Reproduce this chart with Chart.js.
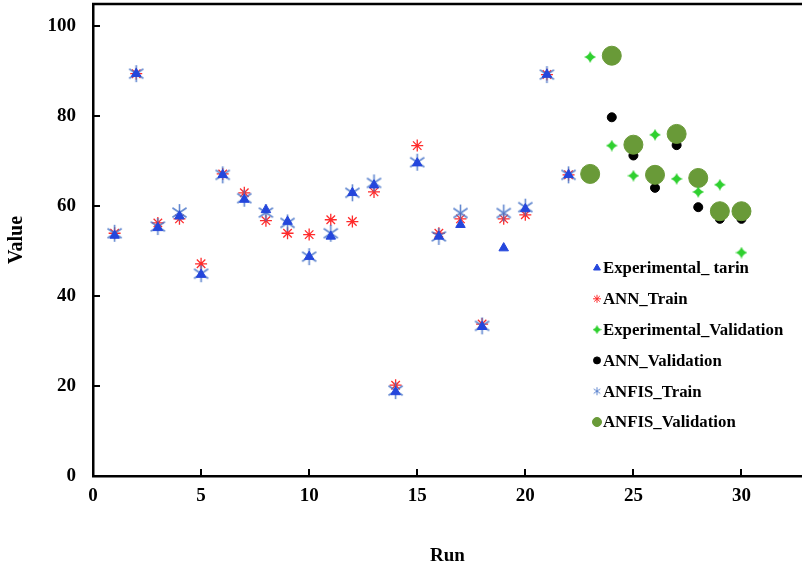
<!DOCTYPE html>
<html>
<head>
<meta charset="utf-8">
<script src="https://cdn.jsdelivr.net/npm/chart.js@4.4.1/dist/chart.umd.min.js"></script>
<style>
  html, body { margin: 0; padding: 0; background: #fff; }
  #wrap { width: 802px; height: 569px; }
</style>
</head>
<body>
<div id="wrap"><canvas id="chart" width="802" height="569"></canvas></div>
<script>
// data
const runsTrain = [1, 2, 3, 4, 5, 6, 7, 8, 9, 10, 11, 12, 13, 14, 15, 16, 17, 18, 19, 20, 21, 22];
const expTrain = [53.5, 89.5, 55.2, 57.8, 44.8, 67, 61.5, 59.2, 56.6, 48.8, 53.3, 63, 64.7, 18.7, 69.6, 53.3, 55.9, 33.2, 50.7, 59.4, 89.3, 67];
const annTrain = [54, 89.5, 56.3, 57.2, 47.2, 67.2, 63, 56.8, 54, 53.7, 57, 56.6, 63.2, 20.2, 73.5, 54, 57.2, 33.8, 57.2, 58.1, 89.3, 67];
const anfisTrain = [54, 89.5, 55.5, 58.6, 45, 67, 61.8, 58.6, 56.3, 48.8, 54, 63, 65.2, 19, 69.8, 53.3, 58.5, 33.4, 58.5, 59.8, 89.3, 67];

const runsVal = [23, 24, 25, 26, 27, 28, 29, 30];
const expVal = [93.2, 73.5, 66.8, 75.9, 66.1, 63.2, 64.8, 49.7];
const annVal = [67, 79.8, 71.3, 64.1, 73.6, 59.8, 57.2, 57.2];
const anfisVal = [67.2, 93.5, 73.7, 67, 76.1, 66.3, 58.9, 58.9];

const xTicks = [0, 5, 10, 15, 20, 25, 30];
const yTicks = [0, 20, 40, 60, 80, 100];

const seriesNames = ["Experimental_ tarin", "ANN_Train", "Experimental_Validation", "ANN_Validation", "ANFIS_Train", "ANFIS_Validation"];

const FONT = "'Liberation Serif', 'Times New Roman', serif";

function pts(xs, ys) {
    return xs.map((x, i) => ({ x: x, y: ys[i] }));
}

// six armed star used for ANFIS_Train
function anfisStar(size, color, lw) {
    const c = document.createElement("canvas");
    c.width = size; c.height = size;
    const g = c.getContext("2d");
    const m = size / 2, r = size / 2 - 1;
    g.strokeStyle = color;
    g.lineWidth = lw;
    g.beginPath();
    g.moveTo(m, m - r); g.lineTo(m, m + r);
    const dx = r * Math.sin(Math.PI / 3.2), dy = r * Math.cos(Math.PI / 3.2);
    g.moveTo(m - dx, m - dy); g.lineTo(m + dx, m + dy);
    g.moveTo(m + dx, m - dy); g.lineTo(m - dx, m + dy);
    g.stroke();
    return c;
}

// four pointed star used for Experimental_Validation
function fourStar(size, color) {
    const c = document.createElement("canvas");
    c.width = size; c.height = size;
    const g = c.getContext("2d");
    const m = size / 2, k = size * 0.12;
    g.fillStyle = color;
    g.beginPath();
    g.moveTo(m, 0);
    g.quadraticCurveTo(m + k, m - k, size, m);
    g.quadraticCurveTo(m + k, m + k, m, size);
    g.quadraticCurveTo(m - k, m + k, 0, m);
    g.quadraticCurveTo(m - k, m - k, m, 0);
    g.fill();
    return c;
}

const blue = "#2446dc";
const red = "#ff2b2b";
const green = "#2fd02f";
const steel = "rgba(70,115,200,0.85)";
const olive = "#699a38";

const insideTicks = {
    id: "insideTicks",
    afterDraw(chart) {
        const ctx = chart.ctx;
        const a = chart.chartArea;
        const xs = chart.scales.x, ys = chart.scales.y;
        ctx.save();
        ctx.strokeStyle = "#000";
        ctx.lineWidth = 2;
        ctx.beginPath();
        xTicks.forEach(v => {
            if (v === 0) return;
            const px = Math.round(xs.getPixelForValue(v));
            ctx.moveTo(px, a.bottom);
            ctx.lineTo(px, a.bottom - 7);
        });
        yTicks.forEach(v => {
            if (v === 0) return;
            const py = Math.round(ys.getPixelForValue(v));
            ctx.moveTo(a.left, py);
            ctx.lineTo(a.left + 7, py);
        });
        ctx.stroke();
        // top frame line
        ctx.lineWidth = 2.5;
        ctx.beginPath();
        ctx.moveTo(a.left - 1, a.top);
        ctx.lineTo(a.right, a.top);
        ctx.stroke();
        ctx.restore();
    }
};

const legendStyles = [
    { pointStyle: "triangle", radius: 4, fill: blue, stroke: blue },
    { pointStyle: "star", radius: 4, fill: red, stroke: red },
    { pointStyle: fourStar(9, green), radius: 4, fill: green, stroke: green },
    { pointStyle: "circle", radius: 3.5, fill: "#000", stroke: "#000" },
    { pointStyle: anfisStar(10, steel, 1), radius: 4, fill: steel, stroke: steel },
    { pointStyle: "circle", radius: 4.5, fill: olive, stroke: olive }
];

const insideLegend = {
    id: "insideLegend",
    afterDraw(chart) {
        const ctx = chart.ctx;
        ctx.save();
        ctx.font = "bold 16.8px " + FONT;
        ctx.textBaseline = "middle";
        seriesNames.forEach((name, i) => {
            const y = 268 + i * 30.8;
            const s = legendStyles[i];
            ctx.fillStyle = s.fill;
            ctx.strokeStyle = s.stroke;
            ctx.lineWidth = 1;
            Chart.helpers.drawPoint(ctx, { pointStyle: s.pointStyle, radius: s.radius, rotation: 0, borderWidth: 1 }, 597, y);
            ctx.fillStyle = "#000";
            ctx.fillText(name, 603, y + 1);
        });
        ctx.restore();
    }
};

function noEdgePadding(s) {
    s.paddingTop = 0;
    s.paddingBottom = 0;
    s.paddingLeft = 0;
    s.paddingRight = 0;
}

new Chart(document.getElementById("chart"), {
    type: "scatter",
    data: {
        datasets: [
            { label: seriesNames[0], data: pts(runsTrain, expTrain), pointStyle: "triangle", pointRadius: 5.5,
              backgroundColor: blue, borderColor: blue, borderWidth: 1, order: 0 },
            { label: seriesNames[1], data: pts(runsTrain, annTrain), pointStyle: "star", pointRadius: 6,
              backgroundColor: red, borderColor: red, borderWidth: 1.3, order: 2 },
            { label: seriesNames[2], data: pts(runsVal, expVal), pointStyle: fourStar(12, green), pointRadius: 6,
              backgroundColor: green, borderColor: green, order: 3 },
            { label: seriesNames[3], data: pts(runsVal, annVal), pointStyle: "circle", pointRadius: 4.5,
              backgroundColor: "#000", borderColor: "#000", order: 5 },
            { label: seriesNames[4], data: pts(runsTrain, anfisTrain), pointStyle: anfisStar(19, steel, 1.6), pointRadius: 9,
              backgroundColor: steel, borderColor: steel, order: 1 },
            { label: seriesNames[5], data: pts(runsVal, anfisVal), pointStyle: "circle", pointRadius: 9.5,
              backgroundColor: olive, borderColor: olive, order: 4 }
        ]
    },
    options: {
        responsive: false,
        animation: false,
        devicePixelRatio: 1,
        layout: { autoPadding: false, padding: { top: 4, right: 0, left: 0, bottom: 0 } },
        plugins: {
            legend: { display: false },
            tooltip: { enabled: false }
        },
        scales: {
            x: {
                type: "linear",
                min: 0,
                max: 32.8,
                afterBuildTicks: s => { s.ticks = xTicks.map(v => ({ value: v })); },
                afterFit: s => { s.height = 93; noEdgePadding(s); },
                grid: { display: false, drawTicks: false },
                border: { display: true, color: "#000", width: 2.5 },
                ticks: { color: "#000", padding: 9, font: { family: FONT, size: 19, weight: "bold" } },
                title: { display: true, text: "Run", color: "#000", padding: { top: 0, bottom: 2 },
                         font: { family: FONT, size: 19, weight: "bold" } }
            },
            y: {
                min: 0,
                max: 105,
                afterBuildTicks: s => { s.ticks = yTicks.map(v => ({ value: v })); },
                afterFit: s => { s.width = 93; noEdgePadding(s); },
                grid: { display: false, drawTicks: false },
                border: { display: true, color: "#000", width: 2.5 },
                ticks: { color: "#000", padding: 17, font: { family: FONT, size: 19, weight: "bold" } },
                title: { display: true, text: "Value", color: "#000", padding: { top: 5, bottom: 0 },
                         font: { family: FONT, size: 20, weight: "bold" } }
            }
        }
    },
    plugins: [insideTicks, insideLegend]
});
</script>
</body>
</html>
